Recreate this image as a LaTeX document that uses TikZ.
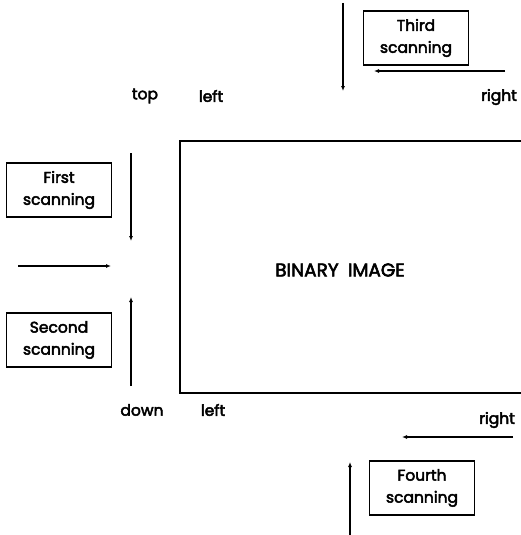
\documentclass[tikz,border=0pt]{standalone}
\usepackage{fontspec}
\newfontfamily\medfont{Poppins}[FakeBold=3]
\usetikzlibrary{arrows.meta}
\begin{document}
\begin{tikzpicture}[x=1pt,y=-1pt,
  lbl/.style={font=\fontsize{15.5}{17}\selectfont\medfont, inner sep=0pt},
  scanbox/.style={draw, line width=1.3pt, minimum width=105pt, minimum height=54pt, align=center, font=\fontsize{15.5}{22}\selectfont\medfont},
  arr/.style={line width=1.1pt, -{Latex[length=5pt,width=4pt]}}]
\useasboundingbox (0,0) rectangle (521,535);
% main image
\draw[line width=1.8pt] (522,141) -- (180,141) -- (180,393) -- (522,393);
\node[lbl, font=\fontsize{18.5}{20}\selectfont\medfont] (bin) at (340,270) {BINARY\hspace{0.5em}IMAGE};
% labels
\node[lbl] (top) at (145,96) {top};
\node[lbl] (tl) at (211,96) {left};
\node[lbl] (tr) at (499,97) {right};
\node[lbl] (down) at (142,410) {down};
\node[lbl] (bl) at (213,410) {left};
\node[lbl] (br) at (497,420) {right};
% boxes
\node[scanbox] (s3) at (416,38) {Third\\scanning};
\node[scanbox] (s1) at (59,190) {First\\scanning};
\node[scanbox] (s2) at (59,340) {Second\\scanning};
\node[scanbox] (s4) at (422,488) {Fourth\\scanning};
% arrow endpoints
\coordinate (a3s) at (343,3);  \coordinate (a3e) at (343,91);
\coordinate (h3s) at (505,71); \coordinate (h3e) at (374,71);
\coordinate (a1s) at (131,153); \coordinate (a1e) at (131,241);
\coordinate (hms) at (18,266); \coordinate (hme) at (111,266);
\coordinate (a2s) at (131,386); \coordinate (a2e) at (131,297);
\coordinate (h4s) at (513,437); \coordinate (h4e) at (402,437);
\coordinate (a4s) at (350,535); \coordinate (a4e) at (350,462);
\draw[arr] (a3s) -- (a3e);
\draw[arr] (h3s) -- (h3e);
\draw[arr] (a1s) -- (a1e);
\draw[arr] (hms) -- (hme);
\draw[arr] (a2s) -- (a2e);
\draw[arr] (h4s) -- (h4e);
\draw[arr] (a4s) -- (a4e);
\end{tikzpicture}
\end{document}
